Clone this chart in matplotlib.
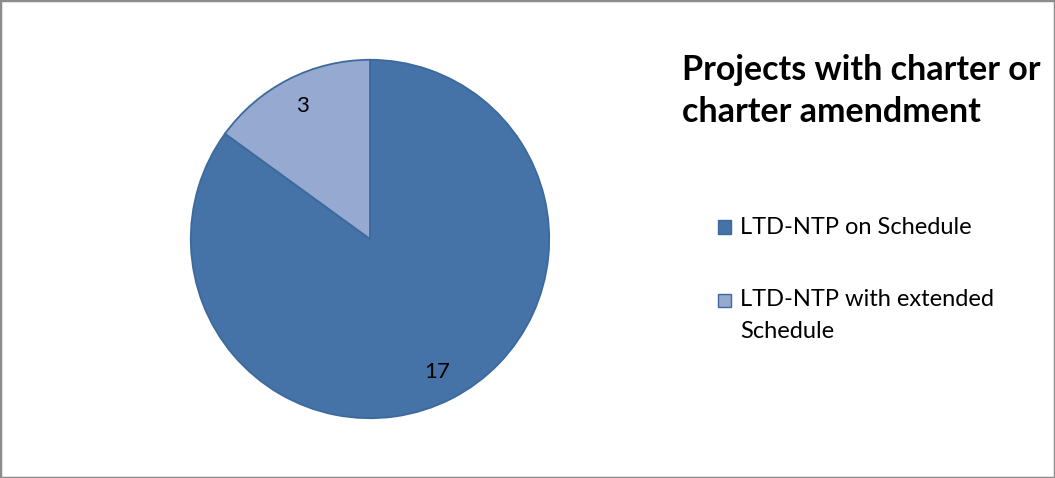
import matplotlib
matplotlib.use("Agg")
import matplotlib.pyplot as plt
from matplotlib.patches import Rectangle

categories = ["LTD-NTP on Schedule", "LTD-NTP with extended\nSchedule"]
values = [17, 3]
title = "Projects with charter or\ncharter amendment"

colors = ["#4572A7", "#95A9D1"]
edge = "#3D6A9C"

plt.rcParams['font.family'] = ['Lato', 'DejaVu Sans']

W, H = 1055, 478
fig = plt.figure(figsize=(W / 100, H / 100), dpi=100)

# figure border
fig.patches.append(Rectangle((0, 0), 1, 1, transform=fig.transFigure, fill=False,
                             edgecolor="#8C8C8C", linewidth=2.5, zorder=10))

cx, cy, r = 370, 239, 181
ax = fig.add_axes([(cx - r) / W, (H - cy - r) / H, 2 * r / W, 2 * r / H])
wedges, texts = ax.pie(values, colors=colors, startangle=90, counterclock=False,
                       labels=[str(v) for v in values], labeldistance=0.83,
                       wedgeprops=dict(edgecolor=edge, linewidth=1.3),
                       textprops=dict(fontsize=16, color="black"))
ax.set_xlim(-1.01, 1.01)
ax.set_ylim(-1.01, 1.01)
ax.set_aspect("equal")
for t in texts:
    t.set_horizontalalignment("center")
    t.set_verticalalignment("center")

fig.text(682 / W, 1 - 54 / H, title, fontsize=24.5, fontweight="bold",
         ha="left", va="top", linespacing=1.4)

# legend drawn manually so the square aligns with the first text line
entry_y = [227, 300]
line_gap = 31
sq = 13
for cat, col, y0 in zip(categories, colors, entry_y):
    fig.patches.append(Rectangle((718 / W, 1 - (y0 + sq / 2) / H), sq / W, sq / H,
                                 transform=fig.transFigure, facecolor=col,
                                 edgecolor=edge, linewidth=1.0))
    for i, line in enumerate(cat.split("\n")):
        fig.text(740 / W, 1 - (y0 + i * line_gap) / H, line, fontsize=17,
                 ha="left", va="center", color="black")

fig.savefig("out.png", dpi=100)
